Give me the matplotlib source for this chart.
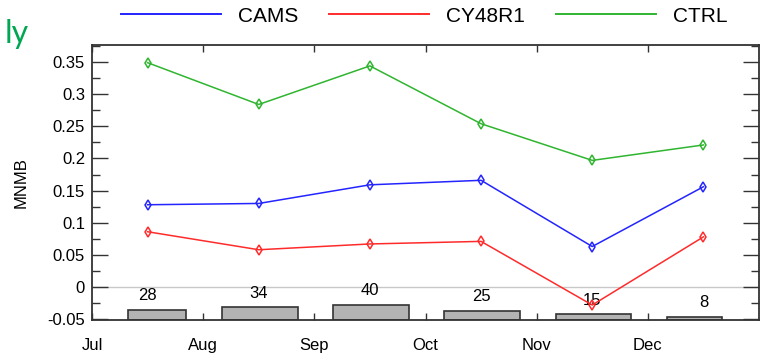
import matplotlib
matplotlib.use("Agg")
import matplotlib.pyplot as plt
import numpy as np
from matplotlib.lines import Line2D
from matplotlib.ticker import MultipleLocator, FuncFormatter

plt.rcParams['font.family'] = ['Liberation Sans', 'DejaVu Sans']
plt.rcParams['axes.unicode_minus'] = False

# monthly MNMB values
months = ['Jul', 'Aug', 'Sep', 'Oct', 'Nov', 'Dec']
cams = [0.128, 0.130, 0.159, 0.166, 0.063, 0.156]
cy48r1 = [0.086, 0.058, 0.067, 0.071, -0.028, 0.078]
ctrl = [0.349, 0.284, 0.344, 0.254, 0.197, 0.221]
counts = [28, 34, 40, 25, 15, 8]

blue = '#2424ff'
red = '#ff2b2b'
green = '#2fb52f'
edge = '#333333'

ylo, yhi = -0.0513, 0.3765

fig = plt.figure(figsize=(7.69, 3.58), dpi=100)
ax = fig.add_axes([92 / 769, 38 / 358, 667 / 769, 275 / 358])

x = np.arange(len(months)) + 0.5

# zero line
ax.axhline(0, color='#c8c8c8', lw=1.0, zorder=1)

# number of stations as small bars along the bottom
bar_left = np.arange(len(months)) + 0.17
bar_right = np.arange(len(months)) + 0.85
bar_left[0] = 0.32
bar_right[-1] = 5.665
bar_scale = 0.023 / 40
heights = np.array(counts) * bar_scale
ax.bar(bar_left, heights, width=bar_right - bar_left, bottom=ylo, align='edge',
       color='#b3b3b3', edgecolor=edge, linewidth=1.2, zorder=2)
for xi, h, n in zip(x, heights, counts):
    ax.annotate(str(n), (xi, ylo + h), xytext=(0, 7), textcoords='offset points',
                ha='center', va='baseline', fontsize=12, zorder=3)

# series
for vals, col in [(cams, blue), (cy48r1, red), (ctrl, green)]:
    ax.plot(x, vals, color=col, lw=1.1, marker='d', markersize=5.5,
            markerfacecolor='none', markeredgecolor=col, markeredgewidth=1.1, zorder=4)

ax.set_xlim(0, len(months))
ax.set_ylim(ylo, yhi)

ax.set_xticks(np.arange(len(months)))
ax.set_xticklabels(months)
ax.yaxis.set_major_locator(MultipleLocator(0.05))
ax.yaxis.set_minor_locator(MultipleLocator(0.025))
ax.yaxis.set_major_formatter(FuncFormatter(lambda v, p: '%g' % round(v, 3)))

ax.xaxis.set_tick_params(which='major', direction='in', top=True, bottom=True,
                         length=5, width=1, color=edge, labelsize=12, pad=13)
ax.yaxis.set_tick_params(which='major', direction='in', left=True, right=True,
                         length=11.5, width=1, color=edge, labelsize=12, pad=5)
ax.yaxis.set_tick_params(which='minor', direction='in', left=True, right=True,
                         length=5.8, width=1, color=edge)
for s in ax.spines.values():
    s.set_color(edge)
    s.set_linewidth(1.3)

ax.set_ylabel('MNMB', fontsize=12)
ax.yaxis.set_label_coords((29 - 92) / 667, 0.5)

# legend above the axes
handles = [Line2D([], [], color=blue, lw=1.4),
           Line2D([], [], color=red, lw=1.4),
           Line2D([], [], color=green, lw=1.4)]
fig.legend(handles, ['CAMS', 'CY48R1', 'CTRL'], loc='center left',
           bbox_to_anchor=(121 / 769, 1 - 16 / 358), ncol=3, frameon=False,
           fontsize=15, handlelength=4.8, handletextpad=0.8, columnspacing=1.5,
           borderpad=0, borderaxespad=0)

# cut-off title fragment at the top left
fig.text(5 / 769, 1 - 43 / 358, 'ly', color='#00a651', fontsize=23,
         family=['Lato', 'DejaVu Sans'], va='baseline', ha='left')

fig.savefig('out.png', dpi=100)
